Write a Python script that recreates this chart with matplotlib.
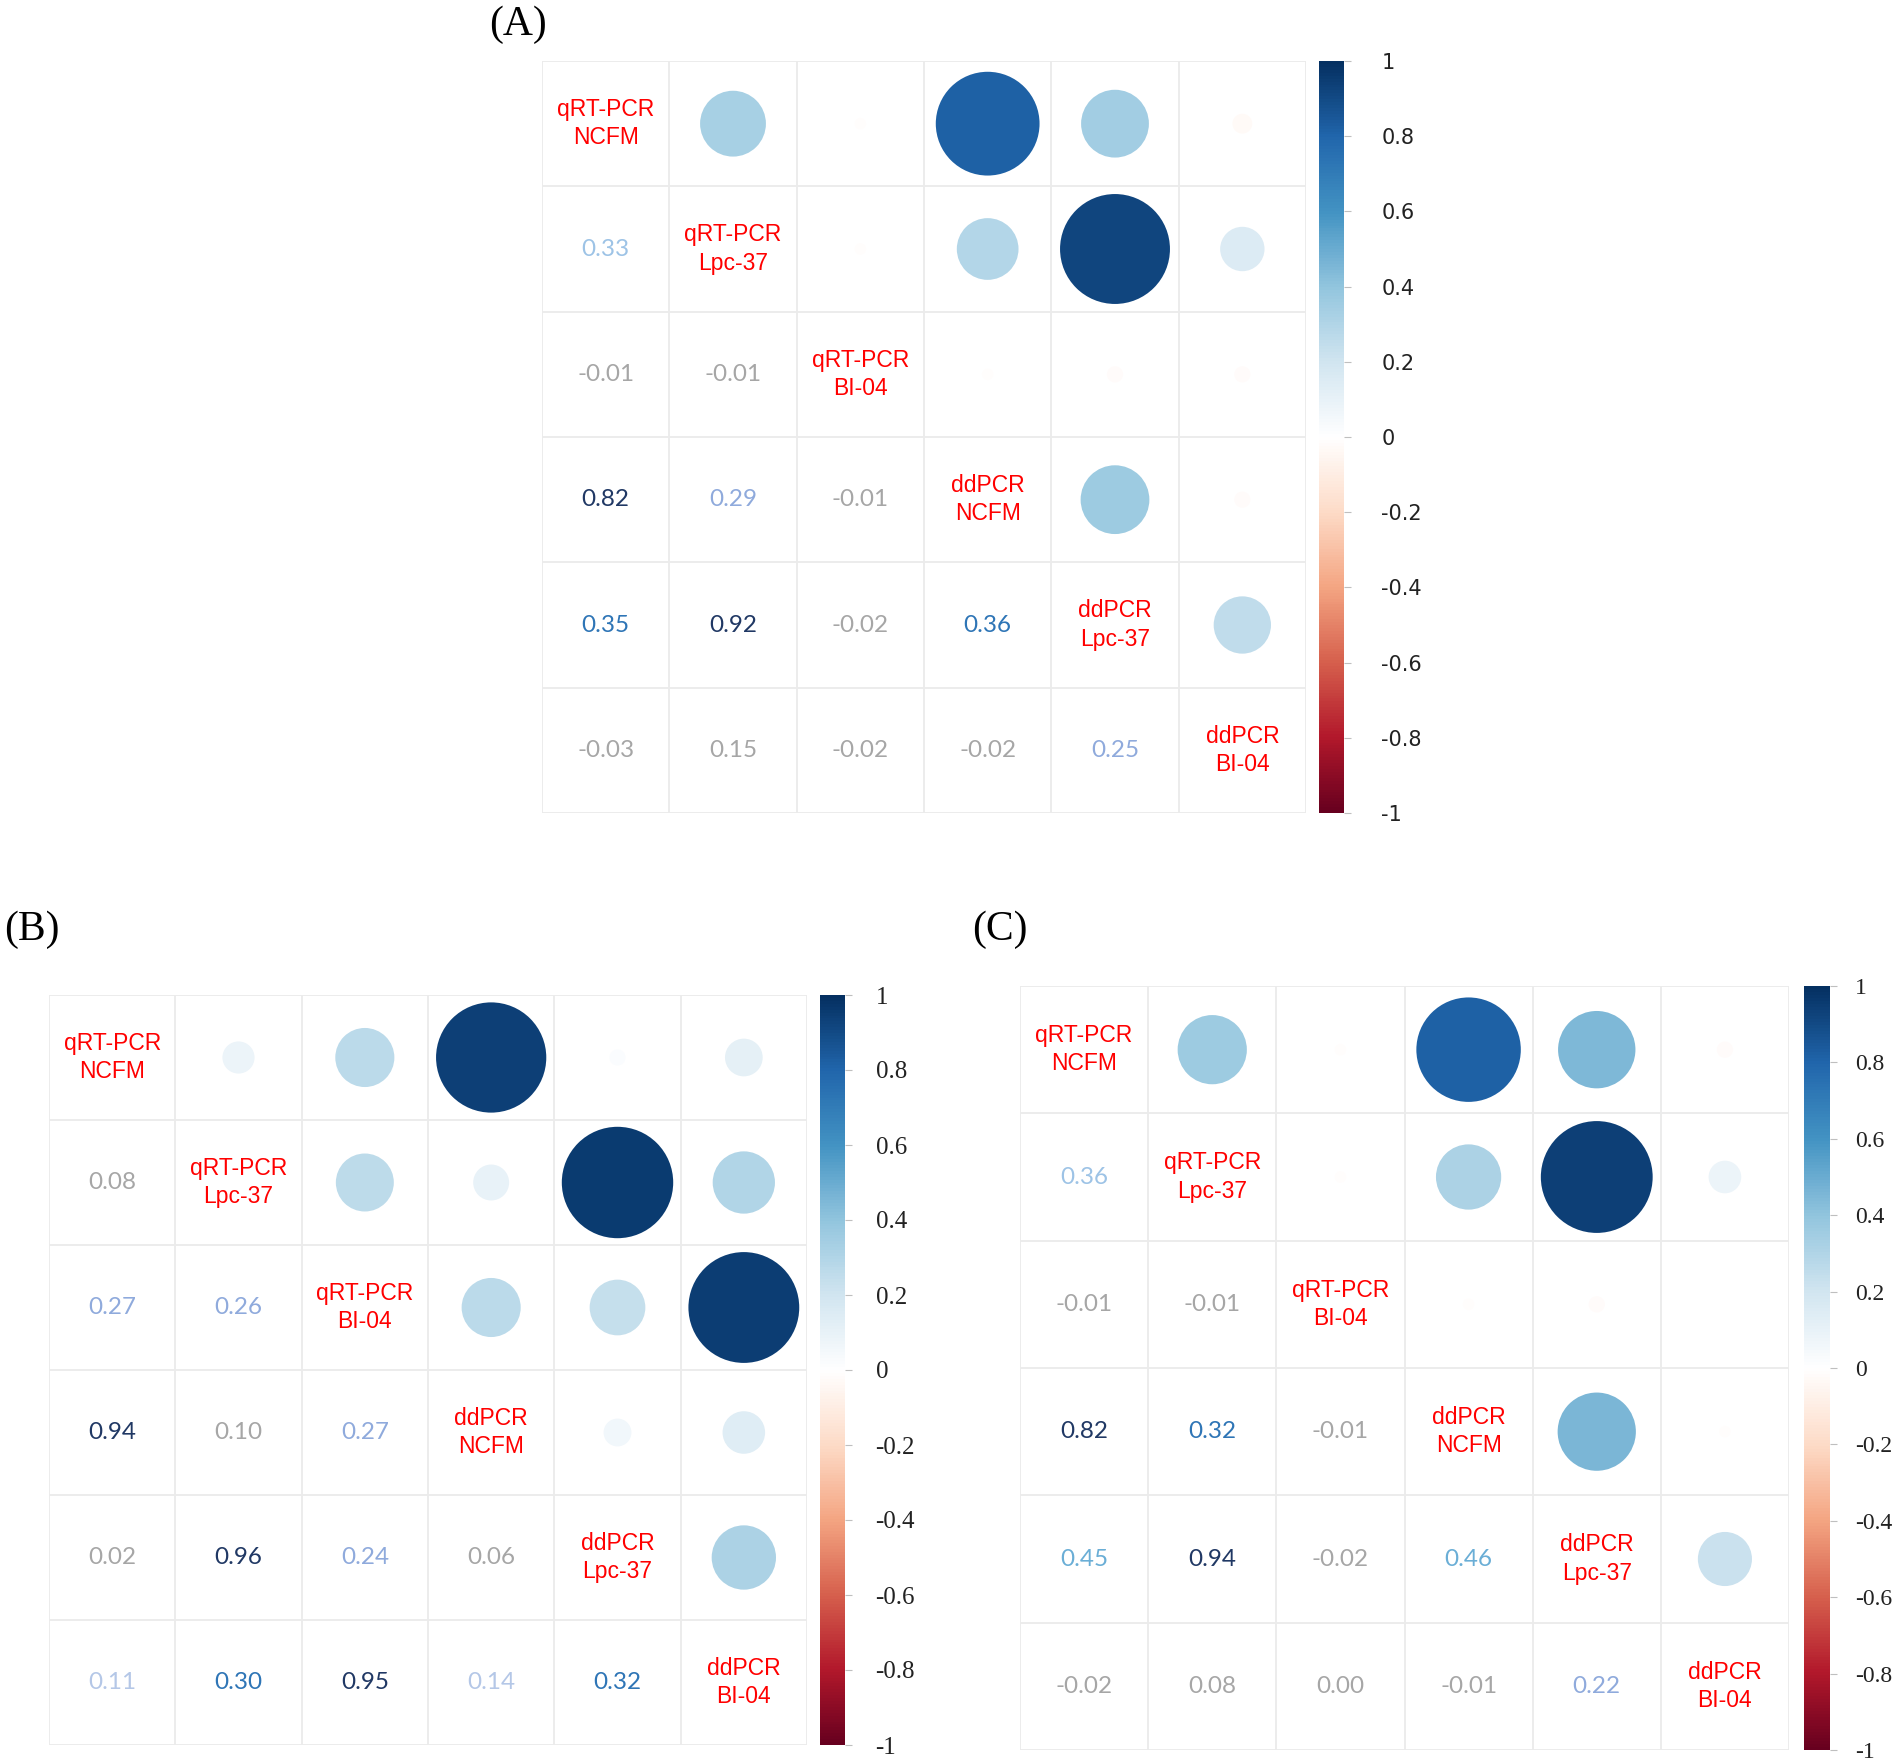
import numpy as np
import matplotlib
matplotlib.use("Agg")
import matplotlib.pyplot as plt
from matplotlib.colors import LinearSegmentedColormap, Normalize

W, H = 1902, 1764

names = ["qRT-PCR\nNCFM", "qRT-PCR\nLpc-37", "qRT-PCR\nBI-04",
         "ddPCR\nNCFM", "ddPCR\nLpc-37", "ddPCR\nBI-04"]

# lower triangle values, row by row (row i has i values)
low_a = [[], [0.33], [-0.01, -0.01], [0.82, 0.29, -0.01],
         [0.35, 0.92, -0.02, 0.36], [-0.03, 0.15, -0.02, -0.02, 0.25]]
low_b = [[], [0.08], [0.27, 0.26], [0.94, 0.10, 0.27],
         [0.02, 0.96, 0.24, 0.06], [0.11, 0.30, 0.95, 0.14, 0.32]]
low_c = [[], [0.36], [-0.01, -0.01], [0.82, 0.32, -0.01],
         [0.45, 0.94, -0.02, 0.46], [-0.02, 0.08, 0.00, -0.01, 0.22]]

# colours of the printed numbers (as in the figure)
navy, mid, corn, pale, sky, sky2, grey = ("#203864", "#2e75b6", "#8faadc", "#b4c7e7",
                                          "#9dc3e6", "#6aaed6", "#a6a6a6")
col_a = [[], [sky], [grey, grey], [navy, corn, grey],
         [mid, navy, grey, mid], [grey, grey, grey, grey, corn]]
col_b = [[], [grey], [corn, corn], [navy, grey, corn],
         [grey, navy, corn, grey], [pale, mid, navy, pale, mid]]
col_c = [[], [sky], [grey, grey], [navy, mid, grey],
         [sky2, navy, grey, sky2], [grey, grey, grey, grey, corn]]

cb_ticks = [1, 0.8, 0.6, 0.4, 0.2, 0, -0.2, -0.4, -0.6, -0.8, -1]

# corrplot style RdBu with white centre
cmap = LinearSegmentedColormap.from_list("col2", [
    "#67001F", "#B2182B", "#D6604D", "#F4A582", "#FDDBC7", "#FFFFFF",
    "#D1E5F0", "#92C5DE", "#4393C3", "#2166AC", "#053061"])

fig = plt.figure(figsize=(W / 100, H / 100), dpi=100)


def box(x0, y0, x1, y1):
    return [x0 / W, 1 - y1 / H, (x1 - x0) / W, (y1 - y0) / H]


def panel(grid, cbar, low, cols, letter, letter_xy, cb_font, cb_size, cb_pad):
    x0, y0, x1, y1 = grid
    n = len(names)
    ax = fig.add_axes(box(*grid))
    ax.set_xlim(0, n)
    ax.set_ylim(n, 0)
    ax.axis("off")
    for k in range(n + 1):
        ax.plot([k, k], [0, n], color="#ebebeb", lw=1.3, zorder=0)
        ax.plot([0, n], [k, k], color="#ebebeb", lw=1.3, zorder=0)

    cw = (x1 - x0) / n
    xs, ys, vs, ss = [], [], [], []
    for i in range(n):
        ax.text(i + 0.5, i + 0.5, names[i], ha="center", va="center",
                color="#ff0000", fontsize=16.5, family="Liberation Sans",
                linespacing=1.3)
        for j in range(i):
            v = low[i][j]
            ax.text(j + 0.5, i + 0.5, f"{v:.2f}", ha="center", va="center",
                    color=cols[i][j], fontsize=17.5, family="Lato")
            # upper triangle circle
            rad = 0.45 * np.sqrt(abs(v)) * cw * 72 / 100
            xs.append(i + 0.5)
            ys.append(j + 0.5)
            vs.append(v)
            ss.append((2 * rad) ** 2)
    ax.scatter(xs, ys, s=ss, c=vs, cmap=cmap, vmin=-1, vmax=1,
               edgecolors="none", zorder=2)

    cax = fig.add_axes(box(*cbar))
    sm = matplotlib.cm.ScalarMappable(norm=Normalize(-1, 1), cmap=cmap)
    cb = fig.colorbar(sm, cax=cax, ticks=cb_ticks)
    cb.outline.set_visible(False)
    cb.ax.set_yticklabels([f"{t:g}" for t in cb_ticks])
    cb.ax.tick_params(length=5, width=0.8, color="#bfbfbf", pad=cb_pad,
                      labelsize=cb_size, labelcolor="#222222")
    for lab in cb.ax.get_yticklabels():
        lab.set_family(cb_font)

    fig.text(letter_xy[0] / W, 1 - letter_xy[1] / H, letter,
             fontsize=30, family="Liberation Serif", ha="left", va="center")


panel((542, 61, 1306, 813), (1319, 61, 1344, 813), low_a, col_a, "(A)",
      (489, 25), "DejaVu Sans", 15, 22)
panel((49, 995, 807, 1745), (820, 995, 845, 1745), low_b, col_b, "(B)",
      (4, 930), "Liberation Serif", 18, 17)
panel((1020, 986, 1789, 1750), (1804, 986, 1830, 1750), low_c, col_c, "(C)",
      (972, 930), "Liberation Serif", 17, 13)

fig.savefig("out.png", dpi=100, facecolor="white")
